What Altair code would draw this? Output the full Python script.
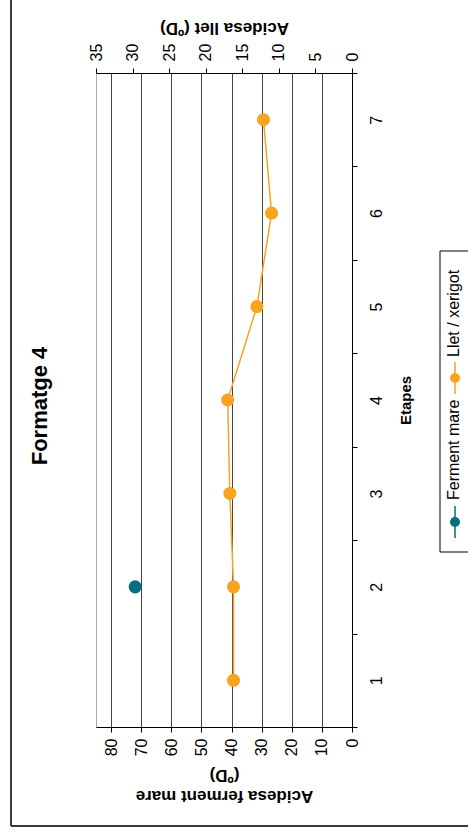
import altair as alt
import pandas as pd

# Acidity readings per production stage
STAGES = [1, 2, 3, 4, 5, 6, 7]
LLET = [16.2, 16.2, 16.7, 17.0, 13.0, 11.0, 12.1]          # Acidesa llet (ºD)
FERMENT = [None, 72.0, None, None, None, None, None]        # Acidesa ferment mare (ºD)
SERIES = ["Ferment mare", "Llet / xerigot"]
COLORS = ["#00707F", "#F7A521"]
FERMENT_TICKS = [0, 10, 20, 30, 40, 50, 60, 70, 80]
LLET_TICKS = [0, 5, 10, 15, 20, 25, 30, 35]

FONT = "Liberation Sans"
CANVAS_W, CANVAS_H = 468, 836
PAD_L, PAD_T = 96, 73
W, H = 256, 654

df = pd.DataFrame({"stage": STAGES, "llet": LLET, "ferment": FERMENT})
one = pd.DataFrame({"k": [0]})

# Stage axis runs vertically on the right, 1 at the bottom
y_enc = alt.Y(
    "stage:O",
    sort="descending",
    scale=alt.Scale(type="band", paddingInner=0, paddingOuter=0),
    axis=alt.Axis(
        orient="right", title="Etapes", tickBand="extent", grid=False,
        labelAngle=270, labelAlign="center", labelBaseline="middle",
        labelPadding=19, labelFontSize=16, tickSize=5,
        titleAngle=270, titleX=53, titleY=H / 2, titleAlign="center",
        titleBaseline="middle", titleFontSize=15, titleFontWeight="bold",
    ),
)

x_ferment = alt.X(
    "ferment:Q",
    scale=alt.Scale(domain=[0, 85], reverse=True, nice=False),
    axis=alt.Axis(
        orient="bottom", values=FERMENT_TICKS, grid=True,
        gridColor="#444444", gridWidth=1, tickSize=5,
        labelAngle=270, labelAlign="right", labelBaseline="middle",
        labelPadding=6, labelFontSize=16,
        title=["Acidesa ferment mare", "(ºD)"], titleAngle=180,
        titleBaseline="bottom", titleAlign="center", titleX=W / 2, titleY=59,
        titleLineHeight=21, titleFontSize=17, titleFontWeight="bold",
    ),
)

x_llet = alt.X(
    "llet:Q",
    scale=alt.Scale(domain=[0, 35], reverse=True, nice=False),
    axis=alt.Axis(
        orient="top", values=LLET_TICKS, grid=False, tickSize=5,
        labelAngle=270, labelAlign="left", labelBaseline="middle",
        labelPadding=7, labelFontSize=16,
        title="Acidesa llet (ºD)", titleAngle=180, titleBaseline="top",
        titleAlign="center", titleX=W / 2, titleY=-38,
        titleFontSize=17, titleFontWeight="bold",
    ),
)

ferment = alt.layer(
    alt.Chart(df).mark_line(color=COLORS[0], strokeWidth=1.5).encode(
        x=x_ferment, y=y_enc, order=alt.Order("stage:Q")),
    alt.Chart(df).mark_circle(size=170, opacity=1, color=COLORS[0]).encode(
        x=x_ferment, y=y_enc),
)

llet = alt.layer(
    alt.Chart(df).mark_line(color=COLORS[1], strokeWidth=1.5).encode(
        x=x_llet, y=y_enc, order=alt.Order("stage:Q")),
    alt.Chart(df).mark_circle(size=170, opacity=1, color=COLORS[1]).encode(
        x=x_llet, y=y_enc),
)

# Outer frame (left and bottom edges)
frame_left = alt.Chart(one).mark_rule(color="#3a3a3a", strokeWidth=2).encode(
    x=alt.value(11 - PAD_L), y=alt.value(-PAD_T), y2=alt.value(826 - PAD_T))
frame_bottom = alt.Chart(one).mark_rule(color="#3a3a3a", strokeWidth=2).encode(
    y=alt.value(826 - PAD_T), x=alt.value(11 - PAD_L), x2=alt.value(CANVAS_W - PAD_L))

# Chart title, written upward along the left side
title = alt.Chart(one).mark_text(
    angle=270, fontSize=22, fontWeight="bold", font=FONT,
    align="center", baseline="middle", color="black",
).encode(x=alt.value(40 - PAD_L), y=alt.value(406 - PAD_T), text=alt.value("Formatge 4"))

# Legend box with vertical entries
legend_layers = [
    alt.Chart(one).mark_rect(fill="white", stroke="black", strokeWidth=1).encode(
        x=alt.value(440 - PAD_L), x2=alt.value(CANVAS_W - PAD_L + 6),
        y=alt.value(251 - PAD_T), y2=alt.value(552 - PAD_T)),
]
sym_x = 455 - PAD_L
entry_sym_y = [522, 378]
entry_text_y = [500, 357]
for name, color, sy, ty in zip(SERIES, COLORS, entry_sym_y, entry_text_y):
    legend_layers.append(
        alt.Chart(one).mark_rule(color=color, strokeWidth=1.5).encode(
            x=alt.value(sym_x), y=alt.value(sy - 16 - PAD_T), y2=alt.value(sy + 16 - PAD_T)))
    legend_layers.append(
        alt.Chart(one).mark_circle(size=100, opacity=1, color=color).encode(
            x=alt.value(sym_x), y=alt.value(sy - PAD_T)))
    legend_layers.append(
        alt.Chart(one).mark_text(
            angle=270, fontSize=16, font=FONT, align="left",
            baseline="middle", color="black",
        ).encode(x=alt.value(sym_x - 1), y=alt.value(ty - PAD_T), text=alt.value(name)))

chart = alt.layer(
    frame_left, frame_bottom, ferment, llet, title, *legend_layers
).resolve_scale(x="independent").properties(
    width=W, height=H,
    autosize=alt.AutoSizeParams(type="none"),
    padding={"left": PAD_L, "top": PAD_T,
             "right": CANVAS_W - PAD_L - W, "bottom": CANVAS_H - PAD_T - H},
    background="white",
).configure_view(
    stroke="#aaaaaa", strokeWidth=1,
).configure_axis(
    labelFont=FONT, titleFont=FONT, labelColor="black", titleColor="black",
    domainColor="black", tickColor="black", domainWidth=1, tickWidth=1,
)

chart.save("out.html", embed_options={"renderer": "svg", "actions": False})
